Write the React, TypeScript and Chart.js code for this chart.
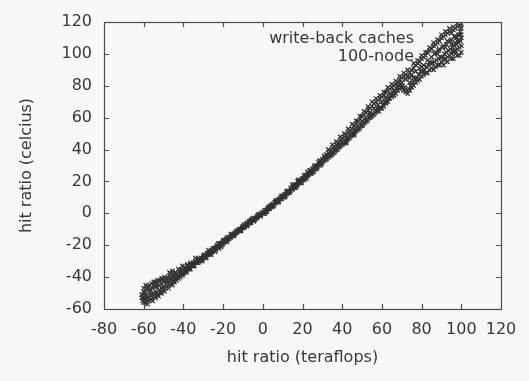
import React, { useEffect, useRef } from "react";
import { Chart, registerables } from "chart.js";

Chart.register(...registerables);

// ---- data ----
const xTitle = "hit ratio (teraflops)";
const yTitle = "hit ratio (celcius)";
const seriesNames = ["write-back caches", "100-node"];
const xMin = -80, xMax = 120, xStep = 20;
const yMin = -60, yMax = 120, yStep = 20;

const writeBackX = [
  -61, -60, -59.5, -59, -58, -57.5, -57, -56, -55.5, -55, -54, -53.5, -53, -52, -51, -50.5, -50, -49, -48, -47.5,
  -47, -46, -45, -44.5, -44, -43, -42, -41.5, -41, -40, -39, -38.5, -38, -37, -36, -35, -34.5, -34, -33, -32,
  -31, -30.5, -30, -29, -28, -27, -26.5, -26, -25, -24, -23, -22, -21.5, -21, -20, -19, -18, -17, -16.5, -16,
  -15, -14, -13, -12, -11.5, -11, -10, -9, -8, -7, -6.5, -6, -5, -4, -3, -2, -1, 0, 1, 2,
  2.5, 3, 4, 5, 6, 7, 7.5, 8, 9, 10, 11, 12, 12.5, 13, 14, 15, 16, 17, 17.5, 18,
  19, 20, 21, 22, 22.5, 23, 24, 25, 26, 27, 28, 29, 30, 31, 32, 33, 34, 35, 36, 37,
  38, 39, 40, 41, 42, 43, 44, 45, 46, 47, 48, 49, 50, 51, 52, 53, 54, 55, 56, 57,
  58, 59, 60, 61, 62, 63, 64, 65, 66, 67, 68, 69, 70, 71, 72, 73, 74, 75, 76, 77,
  78, 79, 80, 81, 82, 83, 84, 85, 86, 87, 88, 89, 90, 91, 92, 93, 94, 95, 96, 97,
  98, 99, 100, 99.5, 98.5, 97.5, 96.5, 94.5, 92.5, 90.5, 88.5, 86.5,
];
const writeBackY = [
  -51, -47, -50, -45, -48, -46, -49, -44, -47, -45, -43, -46, -44, -42, -44, -41, -43, -42, -40, -42,
  -39, -41, -38, -40, -37, -39, -36, -38, -35, -37, -34, -36, -33, -35, -32, -31, -33, -30, -31, -29,
  -28, -30, -27, -28, -25, -26, -24, -25, -23, -24, -21, -22, -20, -21, -19, -18, -17, -16, -15, -15,
  -14, -13, -12, -11, -10, -11, -9, -8, -7, -6, -5, -6, -4, -3, -3, -1, -1, 0, 1, 2,
  3, 3, 5, 5, 7, 8, 8, 9, 10, 11, 12, 13, 14, 14, 16, 17, 18, 18, 20, 20,
  21, 22, 23, 24, 26, 25, 27, 28, 29, 30, 32, 33, 34, 35, 37, 38, 39, 41, 42, 43,
  44, 46, 47, 48, 49, 51, 52, 53, 55, 56, 58, 59, 61, 62, 63, 65, 66, 67, 69, 70,
  71, 72, 73, 74, 76, 77, 78, 79, 80, 81, 82, 84, 85, 86, 87, 86, 88, 90, 91, 93,
  94, 95, 97, 98, 99, 101, 102, 103, 105, 106, 107, 108, 110, 111, 112, 113, 114, 113, 115, 116,
  117, 118, 119, 114, 112, 110, 111, 108, 106, 104, 102, 100,
];
// further write-back points, [x, y]
const writeBackMore: [number, number][] = [
  [-60, -49], [-59, -51], [-58.5, -47], [-57, -45], [-56.5, -48], [-55, -43], [-54.5, -46], [-53, -42], [-52, -45], [-51, -41],
  [-49.5, -40], [-48.5, -43], [-47, -37], [-46, -39], [-45.5, -36], [-43.5, -38], [-42.5, -35], [-41, -37], [-40.5, -33], [-39.5, -36],
  [-38, -32], [-37, -34], [-36.5, -31], [-35.5, -33], [-34, -28], [-33.5, -31], [-32.5, -28], [-31.5, -30], [-29.5, -26], [-28.5, -27],
  [-27.5, -23], [-26, -26], [-24.5, -22], [-23.5, -23], [-22.5, -19], [-20.5, -20], [-19.5, -17], [-18, -18], [-16, -13], [-14.5, -14],
  [-13, -11], [-11, -10], [-9.5, -7], [-8, -8], [-6, -4], [-4.5, -5], [-2.5, -1], [-1, -2], [1, 2], [2, 1],
  [3.5, 4], [5, 4], [6.5, 8], [8, 7], [9.5, 11], [11, 10], [12, 14], [13.5, 13], [15, 18], [16.5, 16],
  [18, 21], [19.5, 19], [21, 24], [22, 22], [23.5, 27], [24.5, 25], [26, 30], [27, 28], [28.5, 33], [29.5, 31],
  [31, 36], [32, 34], [33, 40], [34, 37], [35, 43], [36, 40], [37, 45], [38, 42], [39, 48], [40, 45],
  [41, 50], [42, 47], [43, 53], [44, 50], [45, 56], [46, 52], [47, 58], [48, 55], [49, 61], [50, 58],
  [51, 64], [52, 60], [53, 67], [54, 63], [55, 70], [56, 66], [57, 72], [58, 68], [59, 74], [60, 70],
  [61, 76], [62, 73], [63, 79], [64, 75], [65, 81], [66, 77], [67, 83], [68, 79], [69, 86], [70, 82],
  [71, 88], [72, 84], [73, 90], [74, 85], [75, 87], [76, 94], [77, 89], [78, 96], [79, 91], [80, 99],
  [81, 93], [82, 101], [83, 96], [84, 104], [85, 98], [86, 107], [87, 101], [88, 109], [89, 103], [90, 112],
  [91, 105], [92, 114], [93, 108], [94, 116], [95, 109], [96, 117], [97, 111], [98, 119], [99, 112], [100, 116],
  [99, 109], [97, 107], [88, 100], [92, 104], [95, 106], [98, 108], [100, 112], [96, 102], [84, 95], [80, 92],
  [76, 85], [74, 82], [70, 79], [66, 74], [62, 70], [58, 66], [54, 62], [50, 55], [46, 49], [42, 44],
];

const node100X = [
  -60.5, -60, -59, -58.5, -58, -57, -56.5, -56, -55, -54.5, -54, -53, -52, -51.5, -51, -50, -49, -48, -47, -46,
  -45, -44, -43, -42, -41, -40, -39, -38, -37, -36, -35, -34, -33, -32, -31, -30, -29, -28, -27, -26,
  -25, -24, -23, -22, -21, -20, -19, -18, -17, -16, -15, -14, -13, -12, -11, -10, -9, -8, -7, -6,
  -5, -4, -3, -2, -1, 0, 1, 2, 3, 4, 5, 6, 7, 8, 9, 10, 11, 12, 13, 14,
  15, 16, 17, 18, 19, 20, 21, 22, 23, 24, 25, 26, 27, 28, 29, 30, 31, 32, 33, 34,
  35, 36, 37, 38, 39, 40, 41, 42, 43, 44, 45, 46, 47, 48, 49, 50, 51, 52, 53, 54,
  55, 56, 57, 58, 59, 60, 61, 62, 63, 64, 65, 66, 67, 68, 69, 70, 71, 72, 73, 74,
  75, 76, 77, 78, 79, 80, 81, 82, 83, 84, 85, 86, 87, 88, 89, 90, 91, 92, 93, 94,
  95, 96, 97, 98, 99, 100, 100, 98, 96,
];
const node100Y = [
  -55, -53, -56, -52, -54, -53, -51, -54, -50, -52, -49, -51, -48, -50, -47, -46, -47, -44, -45, -42,
  -43, -41, -40, -39, -38, -38, -36, -35, -34, -33, -32, -31, -29, -30, -28, -28, -26, -26, -25, -23,
  -22, -22, -20, -19, -19, -17, -17, -15, -15, -14, -13, -12, -11, -10, -10, -8, -8, -6, -5, -5,
  -3, -4, -2, -1, 0, 1, 0, 2, 4, 4, 6, 6, 7, 8, 9, 10, 11, 12, 13, 14,
  15, 17, 17, 19, 19, 21, 21, 23, 24, 25, 26, 27, 28, 30, 30, 32, 33, 34, 35, 36,
  37, 38, 40, 41, 42, 43, 44, 45, 47, 48, 49, 50, 52, 53, 54, 55, 57, 58, 59, 60,
  61, 62, 64, 65, 66, 66, 67, 69, 70, 72, 73, 74, 75, 77, 78, 79, 77, 76, 75, 77,
  79, 80, 82, 83, 84, 86, 87, 88, 88, 90, 91, 90, 92, 93, 93, 95, 96, 97, 98, 99,
  100, 101, 102, 103, 104, 105, 101, 99, 97,
];
// further 100-node points, [x, y]
const node100More: [number, number][] = [
  [-61, -53], [-60, -56], [-59.5, -54], [-58, -57], [-57.5, -55], [-56, -52], [-55.5, -55], [-54, -53], [-53.5, -50], [-52.5, -52],
  [-51, -50], [-50.5, -48], [-49.5, -49], [-48.5, -46], [-47.5, -47], [-46.5, -44], [-45.5, -45], [-44.5, -43], [-43.5, -42], [-42.5, -41],
  [-41.5, -40], [-40.5, -39], [-39.5, -37], [-38.5, -37], [-37.5, -35], [-36.5, -35], [-35.5, -33], [-34.5, -33], [-33.5, -31], [-32.5, -31],
  [-31.5, -29], [-30.5, -29], [-29.5, -27], [-28.5, -28], [-27.5, -25], [-26.5, -24], [-25.5, -24], [-24.5, -22], [-23.5, -21], [-22.5, -21],
  [-21.5, -19], [-20.5, -18], [-19.5, -18], [-18.5, -16], [-17.5, -16], [-16.5, -15], [-15.5, -14], [-14.5, -13], [-13.5, -12], [-12.5, -11],
  [-11.5, -11], [-10.5, -9], [-9.5, -9], [-8.5, -7], [-7.5, -7], [-6.5, -6], [-5.5, -4], [-4.5, -4], [-3.5, -3], [-2.5, -2],
  [-1.5, -1], [0.5, 0], [1.5, 1], [2.5, 3], [3.5, 3], [4.5, 5], [5.5, 5], [6.5, 7], [7.5, 7], [8.5, 9],
  [9.5, 9], [10.5, 11], [11.5, 11], [12.5, 13], [13.5, 14], [14.5, 15], [15.5, 16], [16.5, 17], [17.5, 18], [18.5, 19],
  [19.5, 20], [20.5, 22], [21.5, 22], [22.5, 24], [23.5, 25], [24.5, 26], [25.5, 26], [26.5, 28], [27.5, 29], [28.5, 31],
  [29.5, 31], [30.5, 33], [31.5, 34], [32.5, 35], [33.5, 36], [34.5, 37], [35.5, 38], [36.5, 39], [37.5, 40], [38.5, 42],
  [39.5, 43], [40.5, 44], [41.5, 45], [42.5, 46], [43.5, 47], [44.5, 49], [45.5, 50], [46.5, 51], [47.5, 52], [48.5, 53],
  [49.5, 55], [50.5, 56], [51.5, 57], [52.5, 58], [53.5, 60], [54.5, 61], [55.5, 62], [56.5, 63], [57.5, 64], [58.5, 64],
  [59.5, 66], [60.5, 68], [61.5, 70], [62.5, 71], [63.5, 72], [64.5, 74], [65.5, 75], [66.5, 77], [67.5, 78], [68.5, 80],
  [69.5, 81], [70.5, 80], [71.5, 79], [72.5, 77], [73.5, 78], [74.5, 80], [75.5, 82], [76.5, 84], [77.5, 85], [78.5, 87],
  [79.5, 89], [80.5, 89], [81.5, 90], [82.5, 92], [83.5, 93], [84.5, 94], [85.5, 94], [86.5, 95], [87.5, 96], [88.5, 97],
  [89.5, 98], [90.5, 98], [91.5, 100], [92.5, 101], [93.5, 102], [94.5, 103], [95.5, 104], [96.5, 105], [97.5, 106], [98.5, 107],
  [99.5, 108], [100, 110], [99, 99], [97, 100], [95, 97], [93, 95], [91, 93],
];

const FONT = "'DejaVu Sans', sans-serif";
const TEXT = "#383838";
const FRAME = "#4d4d4d";
const MARK = "#333333";
const BG = "#f8f8f6";

function toPoints(xs: number[], ys: number[], more: [number, number][]) {
  return xs.map((x, i) => ({ x, y: ys[i] })).concat(more.map(([x, y]) => ({ x, y })));
}

const framePlugin = {
  id: "gnuplotFrame",
  beforeDraw(chart: any) {
    const { ctx, width, height } = chart;
    ctx.save();
    ctx.fillStyle = BG;
    ctx.fillRect(0, 0, width, height);
    ctx.restore();
  },
  afterDraw(chart: any) {
    const { ctx, chartArea } = chart;
    const { left, right, top, bottom } = chartArea;
    const xs = chart.scales.x;
    const ys = chart.scales.y;
    const tl = 5;
    ctx.save();
    ctx.strokeStyle = FRAME;
    ctx.lineWidth = 1.2;
    ctx.beginPath();
    xs.ticks.forEach((t: any) => {
      const p = Math.round(xs.getPixelForValue(t.value)) + 0.5;
      if (p <= left + 1 || p >= right - 1) return;
      ctx.moveTo(p, bottom);
      ctx.lineTo(p, bottom - tl);
      ctx.moveTo(p, top);
      ctx.lineTo(p, top + tl);
    });
    ys.ticks.forEach((t: any) => {
      const p = Math.round(ys.getPixelForValue(t.value)) + 0.5;
      if (p <= top + 1 || p >= bottom - 1) return;
      ctx.moveTo(left, p);
      ctx.lineTo(left + tl, p);
      ctx.moveTo(right, p);
      ctx.lineTo(right - tl, p);
    });
    ctx.stroke();
    ctx.strokeRect(Math.round(left) + 0.5, Math.round(top) + 0.5, Math.round(right - left), Math.round(bottom - top));

    // key (legend) inside the plot, top right, gnuplot style
    ctx.fillStyle = TEXT;
    ctx.font = `16px ${FONT}`;
    ctx.textAlign = "right";
    ctx.textBaseline = "middle";
    const kx = right - 87;
    chart.data.datasets.forEach((ds: any, i: number) => {
      ctx.fillText(ds.label, kx, top + 17 + i * 18);
    });
    ctx.restore();
  },
};

export default function App() {
  const ref = useRef<HTMLCanvasElement>(null);
  useEffect(() => {
    if (!ref.current) return;
    const markStyle = {
      pointStyle: "crossRot" as const,
      pointRadius: 3,
      borderWidth: 1.3,
      borderColor: MARK,
      backgroundColor: MARK,
    };
    const chart = new Chart(ref.current, {
      type: "scatter",
      data: {
        datasets: [
          { label: seriesNames[0], data: toPoints(writeBackX, writeBackY, writeBackMore), ...markStyle },
          { label: seriesNames[1], data: toPoints(node100X, node100Y, node100More), ...markStyle },
        ],
      },
      options: {
        animation: false,
        responsive: true,
        maintainAspectRatio: false,
        layout: { padding: { top: 22, right: 28, bottom: 0, left: 0 } },
        plugins: {
          legend: { display: false },
          tooltip: { enabled: false },
        },
        scales: {
          x: {
            type: "linear",
            min: xMin,
            max: xMax,
            ticks: { stepSize: xStep, color: TEXT, font: { family: FONT, size: 16 }, padding: 11, maxRotation: 0 },
            grid: { display: false, drawTicks: false },
            border: { display: false },
            title: { display: true, text: xTitle, color: TEXT, font: { family: FONT, size: 16 }, padding: { top: 0, bottom: 14 } },
            afterFit: (s: any) => { s.height = 72; },
          },
          y: {
            type: "linear",
            min: yMin,
            max: yMax,
            ticks: { stepSize: yStep, color: TEXT, font: { family: FONT, size: 16 }, padding: 12 },
            grid: { display: false, drawTicks: false },
            border: { display: false },
            title: { display: true, text: yTitle, color: TEXT, font: { family: FONT, size: 16 }, padding: { top: 17, bottom: 0 } },
            afterFit: (s: any) => { s.width = 104; },
          },
        },
      },
      plugins: [framePlugin],
    });
    return () => chart.destroy();
  }, []);
  return (
    <div style={{ position: "absolute", left: 0, top: 0, width: 529, height: 381, background: BG }}>
      <canvas ref={ref} />
    </div>
  );
}
